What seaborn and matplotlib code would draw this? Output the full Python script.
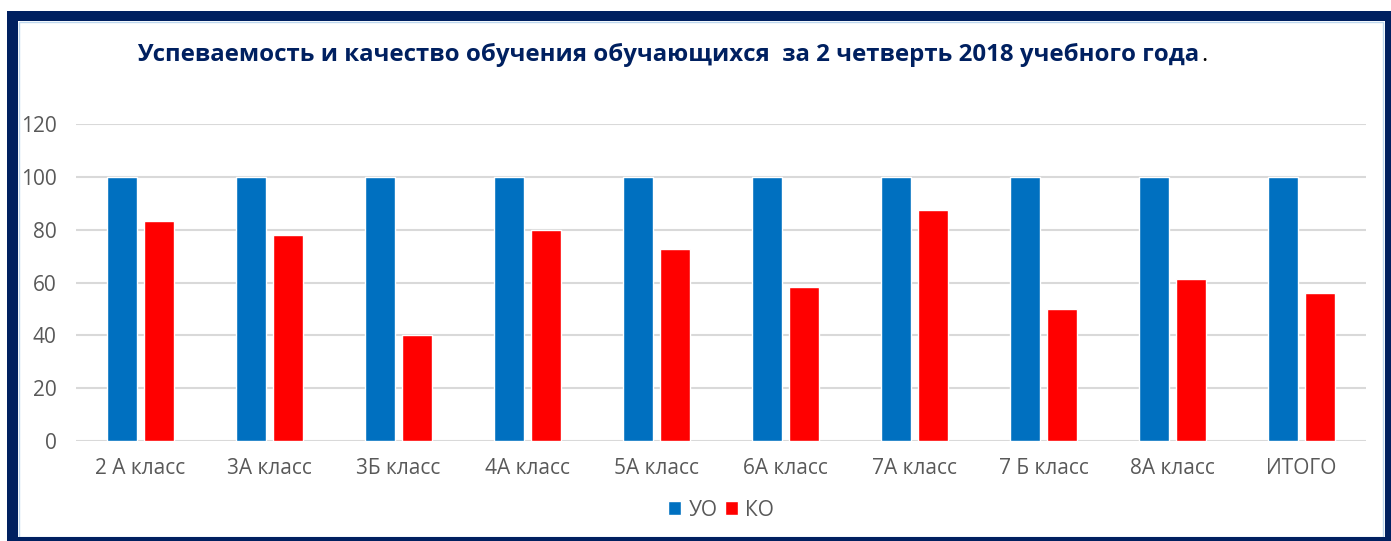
import pandas as pd
import seaborn as sns
import matplotlib.pyplot as plt
from matplotlib.patches import Rectangle

classes = ["2 А класс", "3А класс", "3Б класс", "4А класс", "5А класс",
           "6А класс", "7А класс", "7 Б класс", "8А класс", "ИТОГО"]
uo = [100, 100, 100, 100, 100, 100, 100, 100, 100, 100]
ko = [83.3, 77.8, 40, 80, 72.7, 58.3, 87.5, 50, 61.5, 55.9]
series_names = ["УО", "КО"]
y_ticks = [0, 20, 40, 60, 80, 100, 120]

title_text = "Успеваемость и качество обучения обучающихся  за 2 четверть 2018 учебного года"

df = pd.DataFrame({
    "класс": classes * 2,
    "ряд": [series_names[0]] * len(classes) + [series_names[1]] * len(classes),
    "значение": uo + ko,
})

sns.set_style("white")
plt.rcParams["font.family"] = ["Open Sans", "DejaVu Sans"]

fig = plt.figure(figsize=(13.91, 5.41), dpi=100)
ax = fig.add_axes([0.0546, 0.1848, 0.9274, 0.586])

sns.barplot(data=df, x="класс", y="значение", hue="ряд",
            palette={"УО": "#0070C0", "КО": "#FF0000"},
            width=0.57, gap=0.2, ax=ax, saturation=1)

ax.set_ylim(0, 120)
ax.set_yticks(y_ticks)
ax.set_xlim(-0.5, len(classes) - 0.5)
ax.yaxis.grid(True, color="#D9D9D9", linewidth=1.5)
ax.set_axisbelow(True)
for s in ax.spines.values():
    s.set_visible(False)
ax.set_xlabel("")
ax.set_ylabel("")
ax.tick_params(axis="y", length=0, pad=14, labelsize=15, labelcolor="#595959")
ax.tick_params(axis="x", length=0, pad=12, labelsize=15, labelcolor="#595959")

handles, labels = ax.get_legend_handles_labels()
ax.legend(handles, labels, loc="center", bbox_to_anchor=(0.5, -0.218),
          ncol=2, frameon=False, fontsize=15, handlelength=0.65,
          handleheight=0.65, handletextpad=0.35, columnspacing=0.35,
          labelcolor="#595959")

title = fig.text(0.4805, 0.898, title_text, ha="center", va="center",
                 fontsize=17.3, fontweight="bold", color="#002060")
fig.canvas.draw()
bb = title.get_window_extent().transformed(fig.transFigure.inverted())
fig.text(bb.x1 + 0.001, 0.898, ".", ha="left", va="center",
         fontsize=17.3, color="black")

# frame around the chart
navy = "#002060"
fig.patches.append(Rectangle((19 / 1391, 4 / 541), 1364 / 1391, 515 / 541,
                             transform=fig.transFigure, fill=False,
                             edgecolor="#BDD7EE", linewidth=1))
for x, y, w, h in [(7, 0, 11, 530), (7, 520, 1384, 10),
                   (1385, 0, 6, 530), (7, 0, 1384, 4)]:
    fig.patches.append(Rectangle((x / 1391, y / 541), w / 1391, h / 541,
                                 transform=fig.transFigure, color=navy,
                                 linewidth=0))

fig.savefig("out.png", dpi=100)
